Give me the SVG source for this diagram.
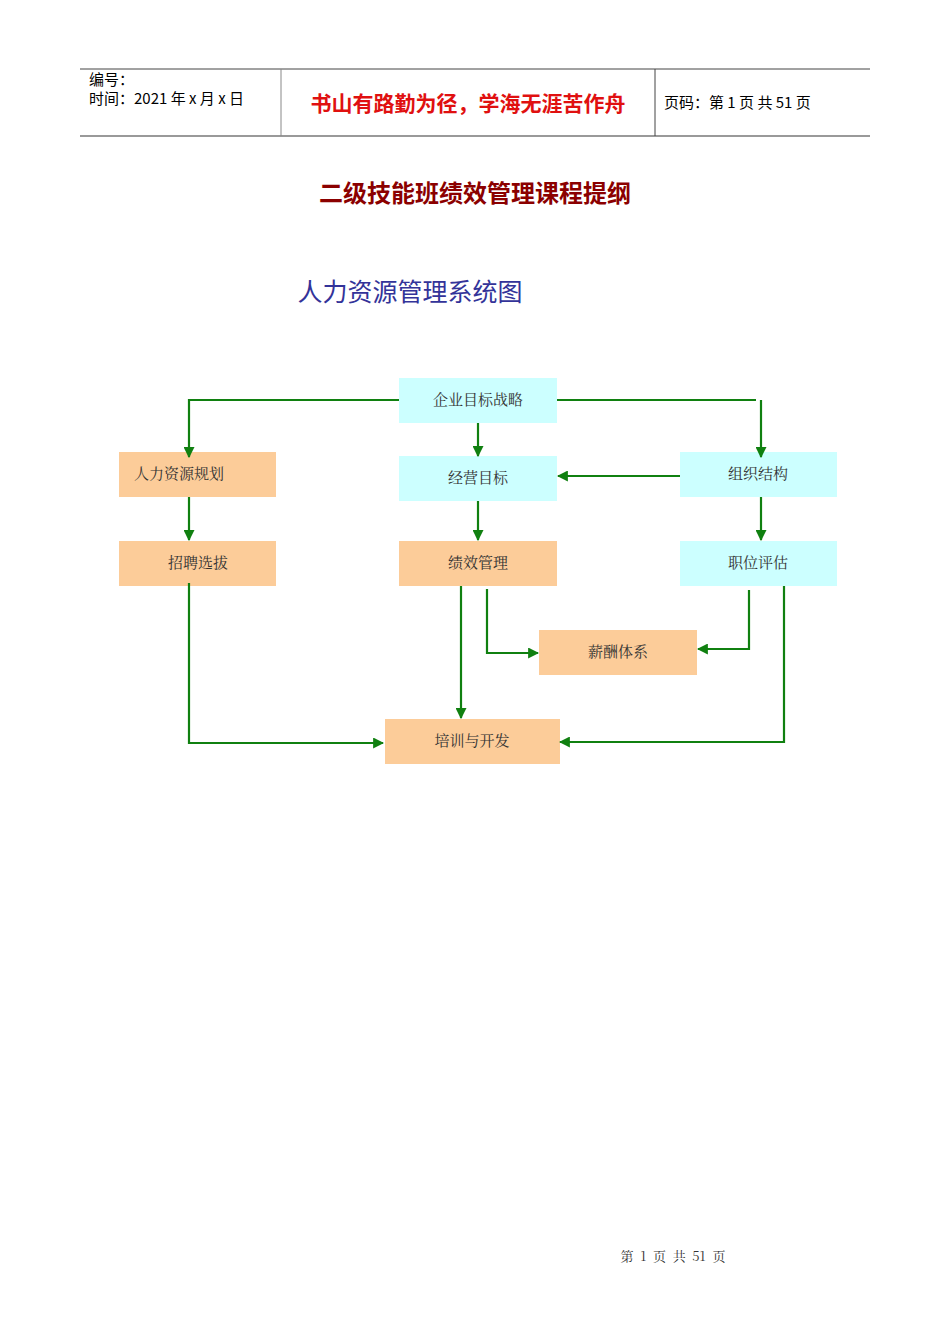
<svg xmlns="http://www.w3.org/2000/svg" width="950" height="1344" viewBox="0 0 950 1344">
<style>
.sans{font-family:"Noto Sans CJK SC","Liberation Sans",sans-serif}
.serif{font-family:"Noto Serif CJK SC","Noto Sans CJK SC",serif}
.blue{fill:#ccffff}.org{fill:#fccc99}
.lbl{font-size:15px;fill:#333;text-anchor:middle;font-family:"Noto Serif CJK SC","Noto Sans CJK SC",serif}
.c{fill:none;stroke:#108010;stroke-width:2.2}
</style>
<defs><marker id="a" viewBox="0 0 10 10" refX="9" refY="5" markerWidth="5" markerHeight="5" orient="auto"><path d="M0,0L10,5L0,10z" fill="#108010"/></marker></defs>
<g id="header">
<line x1="80" y1="69" x2="870" y2="69" stroke="#444"/>
<line x1="80" y1="136" x2="870" y2="136" stroke="#777" stroke-width="1.5"/>
<line x1="281" y1="69" x2="281" y2="136" stroke="#888"/>
<line x1="655" y1="69" x2="655" y2="136" stroke="#444"/>
<text x="89" y="85" class="sans" font-size="15">编号：</text>
<text x="89" y="104" class="sans" font-size="15">时间：2021 年 x 月 x 日</text>
<text x="468" y="111" class="sans" font-size="21" font-weight="bold" fill="#e01010" text-anchor="middle">书山有路勤为径，学海无涯苦作舟</text>
<text x="664" y="108" class="sans" font-size="15">页码：第 1 页  共 51 页</text>
</g>
<text x="475" y="202" class="sans" font-size="24" font-weight="bold" fill="#8b0000" text-anchor="middle">二级技能班绩效管理课程提纲</text>
<text x="410" y="301" class="sans" font-size="25" fill="#333399" text-anchor="middle">人力资源管理系统图</text>
<g id="n1"><rect x="399" y="378" width="158" height="45" class="blue"/><text x="478" y="405" class="lbl">企业目标战略</text></g>
<g id="n2"><rect x="119" y="452" width="157" height="45" class="org"/><text x="179" y="479" class="lbl">人力资源规划</text></g>
<g id="n3"><rect x="399" y="456" width="158" height="45" class="blue"/><text x="478" y="483" class="lbl">经营目标</text></g>
<g id="n4"><rect x="680" y="452" width="157" height="45" class="blue"/><text x="758" y="479" class="lbl">组织结构</text></g>
<g id="n5"><rect x="119" y="541" width="157" height="45" class="org"/><text x="198" y="568" class="lbl">招聘选拔</text></g>
<g id="n6"><rect x="399" y="541" width="158" height="45" class="org"/><text x="478" y="568" class="lbl">绩效管理</text></g>
<g id="n7"><rect x="680" y="541" width="157" height="45" class="blue"/><text x="758" y="568" class="lbl">职位评估</text></g>
<g id="n8"><rect x="539" y="630" width="158" height="45" class="org"/><text x="618" y="657" class="lbl">薪酬体系</text></g>
<g id="n9"><rect x="385" y="719" width="175" height="45" class="org"/><text x="472" y="746" class="lbl">培训与开发</text></g>
<g id="connectors">
<path class="c" d="M399,400H189V457" marker-end="url(#a)"/>
<path class="c" d="M557,400H756"/>
<path class="c" d="M761,400V457" marker-end="url(#a)"/>
<path class="c" d="M478,423V456" marker-end="url(#a)"/>
<path class="c" d="M680,476H558" marker-end="url(#a)"/>
<path class="c" d="M189,497V540" marker-end="url(#a)"/>
<path class="c" d="M478,501V540" marker-end="url(#a)"/>
<path class="c" d="M761,497V540" marker-end="url(#a)"/>
<path class="c" d="M487,589V653H538" marker-end="url(#a)"/>
<path class="c" d="M749,590V649H698" marker-end="url(#a)"/>
<path class="c" d="M461,586V718" marker-end="url(#a)"/>
<path class="c" d="M189,583V743H383" marker-end="url(#a)"/>
<path class="c" d="M784,586V742H560" marker-end="url(#a)"/>
</g>
<text x="673" y="1261" class="serif" font-size="13" fill="#333" text-anchor="middle" xml:space="preserve">第  1  页  共  51  页</text>
</svg>
